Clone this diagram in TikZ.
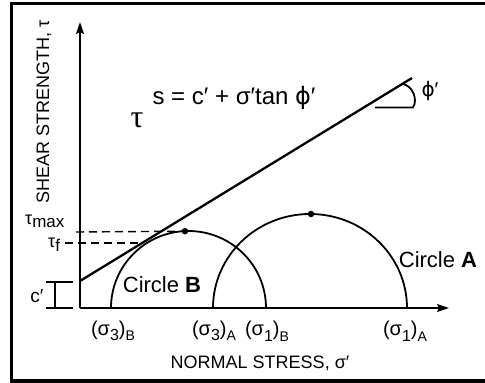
\documentclass[tikz,border=0pt]{standalone}
\usepackage{fontspec}
\setmainfont{Liberation Sans}
\newfontfamily\serifgr{Liberation Serif}
\newfontfamily\djv{DejaVu Sans}
\usetikzlibrary{arrows.meta}
\newcommand{\lowsub}[2][15]{\raisebox{-0.28em}{\fontsize{#1}{#1}\selectfont #2}}
\newcommand{\lowsubb}[2][15]{\raisebox{-0.2em}{\fontsize{#1}{#1}\selectfont #2}}
\begin{document}
\begin{tikzpicture}[x=1pt,y=-1pt,
  lbl/.style={inner sep=0pt, font=\fontsize{18}{20}\selectfont},
  biglbl/.style={inner sep=0pt, font=\fontsize{22}{24}\selectfont},
  axisline/.style={line width=1.8pt, -{Stealth[length=12pt,width=8pt,inset=2pt]}},
  curveline/.style={line width=1.8pt},
  envline/.style={line width=2.3pt},
  dashline/.style={line width=1.4pt, dash pattern=on 8pt off 5pt},
  dimline/.style={line width=1.5pt},
  framestyle/.style={line width=3.5pt},
  dotm/.style={circle, fill, inner sep=0pt, minimum size=6.5pt}]
\useasboundingbox (0,0) rectangle (485,383);

% frame
\draw[framestyle] (486,3.5) -- (11.5,3.5) -- (11.5,381.2) -- (486,381.2);

% axes
\coordinate (O) at (80,308);
\coordinate (ytop) at (80,22);
\coordinate (xend) at (449,308);
\draw[axisline] (O) -- (ytop);
\draw[axisline] (O) -- (xend);

% Mohr circles
\draw[curveline] (266,308) arc[start angle=0, end angle=-180, x radius=77.5, y radius=77];
\draw[curveline] (407,308) arc[start angle=0, end angle=-180, x radius=97, y radius=94];
\node[dotm] (mB) at (185,231.2) {};
\node[dotm] (mA) at (311,214) {};

% failure envelope
\coordinate (e0) at (80,281);
\coordinate (e1) at (412,78);
\draw[envline] (e0) -- (e1);

% angle phi'
\coordinate (a0) at (403,84);
\coordinate (a1) at (413,107.5);
\coordinate (a2) at (375,107.5);
\draw[curveline] (a0) .. controls (413,86) and (418,100) .. (a1) -- (a2);

% dashed lines
\coordinate (tm0) at (76,232);
\coordinate (tf0) at (65,243);
\coordinate (tf1) at (140,243);
\draw[dashline] (tm0) -- (mB);
\draw[dashline] (tf0) -- (tf1);

% c' dimension
\coordinate (c0) at (46,282);
\coordinate (c1) at (73,282);
\coordinate (c2) at (46,308);
\coordinate (c3) at (73,308);
\coordinate (c4) at (55,282);
\coordinate (c5) at (55,308);
\draw[dimline] (c0) -- (c1);
\draw[dimline] (c2) -- (c3);
\draw[dimline] (c4) -- (c5);

% labels
\node[lbl, font=\fontsize{19}{20}\selectfont] (cl) at (37,296) {c′};
\node[lbl, anchor=base west, text height=8pt, text depth=4pt] (tmax) at (25,224) {τ\lowsubb[17]{max}};
\node[lbl, anchor=base west, text height=8pt, text depth=4pt] (tf) at (48,247.5) {τ\lowsubb[17]{f}};
\node[lbl, rotate=90] (ylab) at (44,112) {SHEAR STRENGTH, τ};
\node[lbl] (xlab) at (260,363) {NORMAL STRESS, σ′};
\node[biglbl, font=\fontsize{24}{26}\selectfont] (eq) at (234,98) {s = c′ + σ′tan {\djv ϕ}′};
\node[inner sep=0pt, font=\serifgr\fontsize{32}{34}\selectfont] (tau) at (137,120) {τ};
\node[lbl, font=\fontsize{20}{22}\selectfont] (phi) at (430,91) {{\djv ϕ}′};
\node[biglbl] (cB) at (162,285) {Circle \textbf{B}};
\node[biglbl] (cA) at (438,260) {Circle \textbf{A}};
\node[lbl, font=\fontsize{20}{22}\selectfont] (s3B) at (113,331) {(σ\lowsub[16]{3})\lowsub[14]{B}};
\node[lbl, font=\fontsize{20}{22}\selectfont] (s3A) at (214,331) {(σ\lowsub[16]{3})\lowsub[14]{A}};
\node[lbl, font=\fontsize{20}{22}\selectfont] (s1B) at (267,331) {(σ\lowsub[16]{1})\lowsub[14]{B}};
\node[lbl, font=\fontsize{20}{22}\selectfont] (s1A) at (405,331) {(σ\lowsub[16]{1})\lowsub[14]{A}};
\end{tikzpicture}
\end{document}
